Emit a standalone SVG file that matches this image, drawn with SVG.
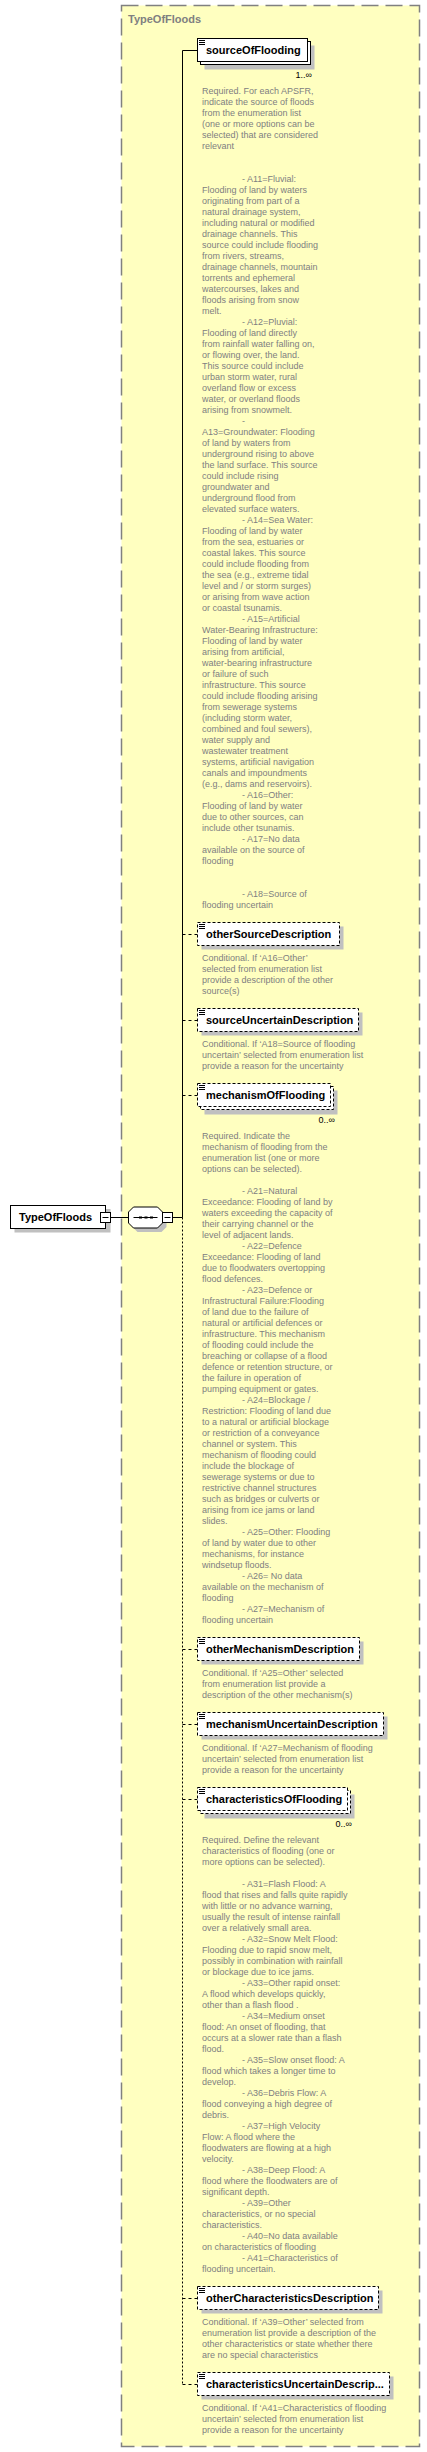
<svg xmlns="http://www.w3.org/2000/svg" width="427" height="2452" viewBox="0 0 427 2452">
<style>
.bg{fill:#FFFFC0;stroke:#808080;stroke-width:1.5;stroke-dasharray:17,7}
.title{font-family:"Liberation Sans",Arial,sans-serif;font-size:11px;font-weight:bold;fill:#808080}
.box{fill:#fff;stroke:#000;stroke-width:1}
.opt{stroke-dasharray:3,2}
.sh{fill:#C0C0C0}
.lbl{font-family:"Liberation Sans",Arial,sans-serif;font-size:11px;font-weight:bold;fill:#000}
.doc{font-family:"Liberation Sans",Arial,sans-serif;font-size:9px;fill:#808080}
.mult{font-family:"Liberation Sans",Arial,sans-serif;font-size:9px;fill:#000}
.c{stroke:#000;stroke-width:1;fill:none}
.cd{stroke:#000;stroke-width:1;fill:none;stroke-dasharray:3,3}
.cv{stroke:#000;stroke-width:1;fill:none;stroke-dasharray:2,2}
.ic{stroke:#000;stroke-width:1}
</style>
<defs>
<g id="icon"><path class="ic" d="M1.5 2.5h6M1.5 4.5h6M1.5 6.5h6"/></g>
</defs>
<rect class="bg" x="121.5" y="5.5" width="298" height="2441"/>
<text class="title" x="128" y="23">TypeOfFloods</text>

<g id="connectors">
<path class="c" d="M110.5 1217.5H128.5M172.5 1217.5H182.5M182.5 50.5V1217.5M182.5 50.5H197.5"/>
<path class="cv" d="M182.5 1217.5V2384.5"/>
<path class="cd" d="M182.5 934.5H197.5M182.5 1020.5H197.5M182.5 1095.5H197.5M182.5 1649.5H197.5M182.5 1724.5H197.5M182.5 1799.5H197.5M182.5 2298.5H197.5M182.5 2384.5H197.5"/>
</g>

<g id="TypeOfFloods">
<rect class="sh" x="14.5" y="1209" width="96" height="23.5"/>
<rect class="box" x="10.5" y="1205.5" width="95" height="23"/>
<text class="lbl" x="19" y="1221">TypeOfFloods</text>
<rect class="box" x="100.5" y="1212.5" width="10" height="10"/>
<path class="ic" d="M102.5 1217.5h6"/>
</g>

<g id="sequence">
<polygon class="sh" points="137.5,1211 161.5,1211 166.5,1216 166.5,1227 161.5,1232 137.5,1232 132.5,1227 132.5,1216"/>
<polygon class="box" points="133.5,1207 157.5,1207 162.5,1212 162.5,1223 157.5,1228 133.5,1228 128.5,1223 128.5,1212"/>
<path class="ic" d="M133.5 1217.5h24"/>
<rect x="139" y="1216.5" width="3" height="2" fill="#000"/>
<rect x="144.5" y="1216.5" width="3" height="2" fill="#000"/>
<rect x="150" y="1216.5" width="3" height="2" fill="#000"/>
<rect class="box" x="162.5" y="1212.5" width="10" height="10"/>
<path class="ic" d="M164.5 1217.5h6"/>
</g>

<g id="sourceOfFlooding">
<rect class="sh" x="204.5" y="45.5" width="110" height="24"/>
<rect class="box" x="200.5" y="41.5" width="110" height="23"/>
<rect class="box" x="197.5" y="38.5" width="110" height="23"/>
<use href="#icon" x="197.5" y="38"/>
<text class="lbl" x="206" y="54">sourceOfFlooding</text>
<text class="mult" x="312" y="78" text-anchor="end">1..∞</text>
<text class="doc"><tspan x="202" y="94">Required. For each APSFR,</tspan><tspan x="202" y="105">indicate the source of floods</tspan><tspan x="202" y="116">from the enumeration list</tspan><tspan x="202" y="127">(one or more options can be</tspan><tspan x="202" y="138">selected) that are considered</tspan><tspan x="202" y="149">relevant</tspan><tspan x="242" y="182">- A11=Fluvial:</tspan><tspan x="202" y="193">Flooding of land by waters</tspan><tspan x="202" y="204">originating from part of a</tspan><tspan x="202" y="215">natural drainage system,</tspan><tspan x="202" y="226">including natural or modified</tspan><tspan x="202" y="237">drainage channels. This</tspan><tspan x="202" y="248">source could include flooding</tspan><tspan x="202" y="259">from rivers, streams,</tspan><tspan x="202" y="270">drainage channels, mountain</tspan><tspan x="202" y="281">torrents and ephemeral</tspan><tspan x="202" y="292">watercourses, lakes and</tspan><tspan x="202" y="303">floods arising from snow</tspan><tspan x="202" y="314">melt.</tspan><tspan x="242" y="325">- A12=Pluvial:</tspan><tspan x="202" y="336">Flooding of land directly</tspan><tspan x="202" y="347">from rainfall water falling on,</tspan><tspan x="202" y="358">or flowing over, the land.</tspan><tspan x="202" y="369">This source could include</tspan><tspan x="202" y="380">urban storm water, rural</tspan><tspan x="202" y="391">overland flow or excess</tspan><tspan x="202" y="402">water, or overland floods</tspan><tspan x="202" y="413">arising from snowmelt.</tspan><tspan x="242" y="424">-</tspan><tspan x="202" y="435">A13=Groundwater: Flooding</tspan><tspan x="202" y="446">of land by waters from</tspan><tspan x="202" y="457">underground rising to above</tspan><tspan x="202" y="468">the land surface. This source</tspan><tspan x="202" y="479">could include rising</tspan><tspan x="202" y="490">groundwater and</tspan><tspan x="202" y="501">underground flood from</tspan><tspan x="202" y="512">elevated surface waters.</tspan><tspan x="242" y="523">- A14=Sea Water:</tspan><tspan x="202" y="534">Flooding of land by water</tspan><tspan x="202" y="545">from the sea, estuaries or</tspan><tspan x="202" y="556">coastal lakes. This source</tspan><tspan x="202" y="567">could include flooding from</tspan><tspan x="202" y="578">the sea (e.g., extreme tidal</tspan><tspan x="202" y="589">level and / or storm surges)</tspan><tspan x="202" y="600">or arising from wave action</tspan><tspan x="202" y="611">or coastal tsunamis.</tspan><tspan x="242" y="622">- A15=Artificial</tspan><tspan x="202" y="633">Water-Bearing Infrastructure:</tspan><tspan x="202" y="644">Flooding of land by water</tspan><tspan x="202" y="655">arising from artificial,</tspan><tspan x="202" y="666">water-bearing infrastructure</tspan><tspan x="202" y="677">or failure of such</tspan><tspan x="202" y="688">infrastructure. This source</tspan><tspan x="202" y="699">could include flooding arising</tspan><tspan x="202" y="710">from sewerage systems</tspan><tspan x="202" y="721">(including storm water,</tspan><tspan x="202" y="732">combined and foul sewers),</tspan><tspan x="202" y="743">water supply and</tspan><tspan x="202" y="754">wastewater treatment</tspan><tspan x="202" y="765">systems, artificial navigation</tspan><tspan x="202" y="776">canals and impoundments</tspan><tspan x="202" y="787">(e.g., dams and reservoirs).</tspan><tspan x="242" y="798">- A16=Other:</tspan><tspan x="202" y="809">Flooding of land by water</tspan><tspan x="202" y="820">due to other sources, can</tspan><tspan x="202" y="831">include other tsunamis.</tspan><tspan x="242" y="842">- A17=No data</tspan><tspan x="202" y="853">available on the source of</tspan><tspan x="202" y="864">flooding</tspan><tspan x="242" y="897">- A18=Source of</tspan><tspan x="202" y="908">flooding uncertain</tspan></text>
</g>

<g id="otherSourceDescription">
<rect class="sh" x="201.5" y="926.5" width="142" height="23"/>
<rect class="box opt" x="197.5" y="922.5" width="142" height="23"/>
<use href="#icon" x="197.5" y="922"/>
<text class="lbl" x="206" y="938">otherSourceDescription</text>
<text class="doc"><tspan x="202" y="961">Conditional. If ‘A16=Other’</tspan><tspan x="202" y="972">selected from enumeration list</tspan><tspan x="202" y="983">provide a description of the other</tspan><tspan x="202" y="994">source(s)</tspan></text>
</g>

<g id="sourceUncertainDescription">
<rect class="sh" x="201.5" y="1012.5" width="161" height="23"/>
<rect class="box opt" x="197.5" y="1008.5" width="161" height="23"/>
<use href="#icon" x="197.5" y="1008"/>
<text class="lbl" x="206" y="1024">sourceUncertainDescription</text>
<text class="doc"><tspan x="202" y="1046.5">Conditional. If ‘A18=Source of flooding</tspan><tspan x="202" y="1057.5">uncertain’ selected from enumeration list</tspan><tspan x="202" y="1068.5">provide a reason for the uncertainty</tspan></text>
</g>

<g id="mechanismOfFlooding">
<rect class="sh" x="204.5" y="1090.5" width="133" height="24"/>
<rect class="box opt" x="200.5" y="1086.5" width="133" height="23"/>
<rect class="box opt" x="197.5" y="1083.5" width="133" height="23"/>
<use href="#icon" x="197.5" y="1083"/>
<text class="lbl" x="206" y="1099">mechanismOfFlooding</text>
<text class="mult" x="335" y="1123" text-anchor="end">0..∞</text>
<text class="doc"><tspan x="202" y="1138.5">Required. Indicate the</tspan><tspan x="202" y="1149.5">mechanism of flooding from the</tspan><tspan x="202" y="1160.5">enumeration list (one or more</tspan><tspan x="202" y="1171.5">options can be selected).</tspan><tspan x="242" y="1193.5">- A21=Natural</tspan><tspan x="202" y="1204.5">Exceedance: Flooding of land by</tspan><tspan x="202" y="1215.5">waters exceeding the capacity of</tspan><tspan x="202" y="1226.5">their carrying channel or the</tspan><tspan x="202" y="1237.5">level of adjacent lands.</tspan><tspan x="242" y="1248.5">- A22=Defence</tspan><tspan x="202" y="1259.5">Exceedance: Flooding of land</tspan><tspan x="202" y="1270.5">due to floodwaters overtopping</tspan><tspan x="202" y="1281.5">flood defences.</tspan><tspan x="242" y="1292.5">- A23=Defence or</tspan><tspan x="202" y="1303.5">Infrastructural Failure:Flooding</tspan><tspan x="202" y="1314.5">of land due to the failure of</tspan><tspan x="202" y="1325.5">natural or artificial defences or</tspan><tspan x="202" y="1336.5">infrastructure. This mechanism</tspan><tspan x="202" y="1347.5">of flooding could include the</tspan><tspan x="202" y="1358.5">breaching or collapse of a flood</tspan><tspan x="202" y="1369.5">defence or retention structure, or</tspan><tspan x="202" y="1380.5">the failure in operation of</tspan><tspan x="202" y="1391.5">pumping equipment or gates.</tspan><tspan x="242" y="1402.5">- A24=Blockage /</tspan><tspan x="202" y="1413.5">Restriction: Flooding of land due</tspan><tspan x="202" y="1424.5">to a natural or artificial blockage</tspan><tspan x="202" y="1435.5">or restriction of a conveyance</tspan><tspan x="202" y="1446.5">channel or system. This</tspan><tspan x="202" y="1457.5">mechanism of flooding could</tspan><tspan x="202" y="1468.5">include the blockage of</tspan><tspan x="202" y="1479.5">sewerage systems or due to</tspan><tspan x="202" y="1490.5">restrictive channel structures</tspan><tspan x="202" y="1501.5">such as bridges or culverts or</tspan><tspan x="202" y="1512.5">arising from ice jams or land</tspan><tspan x="202" y="1523.5">slides.</tspan><tspan x="242" y="1534.5">- A25=Other: Flooding</tspan><tspan x="202" y="1545.5">of land by water due to other</tspan><tspan x="202" y="1556.5">mechanisms, for instance</tspan><tspan x="202" y="1567.5">windsetup floods.</tspan><tspan x="242" y="1578.5">- A26= No data</tspan><tspan x="202" y="1589.5">available on the mechanism of</tspan><tspan x="202" y="1600.5">flooding</tspan><tspan x="242" y="1611.5">- A27=Mechanism of</tspan><tspan x="202" y="1622.5">flooding uncertain</tspan></text>
</g>

<g id="otherMechanismDescription">
<rect class="sh" x="201.5" y="1641.5" width="162" height="23"/>
<rect class="box opt" x="197.5" y="1637.5" width="162" height="23"/>
<use href="#icon" x="197.5" y="1637"/>
<text class="lbl" x="206" y="1653">otherMechanismDescription</text>
<text class="doc"><tspan x="202" y="1676">Conditional. If ‘A25=Other’ selected</tspan><tspan x="202" y="1687">from enumeration list provide a</tspan><tspan x="202" y="1698">description of the other mechanism(s)</tspan></text>
</g>

<g id="mechanismUncertainDescription">
<rect class="sh" x="201.5" y="1716.5" width="186" height="23"/>
<rect class="box opt" x="197.5" y="1712.5" width="186" height="23"/>
<use href="#icon" x="197.5" y="1712"/>
<text class="lbl" x="206" y="1728">mechanismUncertainDescription</text>
<text class="doc"><tspan x="202" y="1751">Conditional. If ‘A27=Mechanism of flooding</tspan><tspan x="202" y="1762">uncertain’ selected from enumeration list</tspan><tspan x="202" y="1773">provide a reason for the uncertainty</tspan></text>
</g>

<g id="characteristicsOfFlooding">
<rect class="sh" x="204.5" y="1794.5" width="150" height="24"/>
<rect class="box opt" x="200.5" y="1790.5" width="150" height="23"/>
<rect class="box opt" x="197.5" y="1787.5" width="150" height="23"/>
<use href="#icon" x="197.5" y="1787"/>
<text class="lbl" x="206" y="1803">characteristicsOfFlooding</text>
<text class="mult" x="352" y="1827" text-anchor="end">0..∞</text>
<text class="doc"><tspan x="202" y="1843.2">Required. Define the relevant</tspan><tspan x="202" y="1854.2">characteristics of flooding (one or</tspan><tspan x="202" y="1865.2">more options can be selected).</tspan><tspan x="242" y="1887.2">- A31=Flash Flood: A</tspan><tspan x="202" y="1898.2">flood that rises and falls quite rapidly</tspan><tspan x="202" y="1909.2">with little or no advance warning,</tspan><tspan x="202" y="1920.2">usually the result of intense rainfall</tspan><tspan x="202" y="1931.2">over a relatively small area.</tspan><tspan x="242" y="1942.2">- A32=Snow Melt Flood:</tspan><tspan x="202" y="1953.2">Flooding due to rapid snow melt,</tspan><tspan x="202" y="1964.2">possibly in combination with rainfall</tspan><tspan x="202" y="1975.2">or blockage due to ice jams.</tspan><tspan x="242" y="1986.2">- A33=Other rapid onset:</tspan><tspan x="202" y="1997.2">A flood which develops quickly,</tspan><tspan x="202" y="2008.2">other than a flash flood .</tspan><tspan x="242" y="2019.2">- A34=Medium onset</tspan><tspan x="202" y="2030.2">flood: An onset of flooding, that</tspan><tspan x="202" y="2041.2">occurs at a slower rate than a flash</tspan><tspan x="202" y="2052.2">flood.</tspan><tspan x="242" y="2063.2">- A35=Slow onset flood: A</tspan><tspan x="202" y="2074.2">flood which takes a longer time to</tspan><tspan x="202" y="2085.2">develop.</tspan><tspan x="242" y="2096.2">- A36=Debris Flow: A</tspan><tspan x="202" y="2107.2">flood conveying a high degree of</tspan><tspan x="202" y="2118.2">debris.</tspan><tspan x="242" y="2129.2">- A37=High Velocity</tspan><tspan x="202" y="2140.2">Flow: A flood where the</tspan><tspan x="202" y="2151.2">floodwaters are flowing at a high</tspan><tspan x="202" y="2162.2">velocity.</tspan><tspan x="242" y="2173.2">- A38=Deep Flood: A</tspan><tspan x="202" y="2184.2">flood where the floodwaters are of</tspan><tspan x="202" y="2195.2">significant depth.</tspan><tspan x="242" y="2206.2">- A39=Other</tspan><tspan x="202" y="2217.2">characteristics, or no special</tspan><tspan x="202" y="2228.2">characteristics.</tspan><tspan x="242" y="2239.2">- A40=No data available</tspan><tspan x="202" y="2250.2">on characteristics of flooding</tspan><tspan x="242" y="2261.2">- A41=Characteristics of</tspan><tspan x="202" y="2272.2">flooding uncertain.</tspan></text>
</g>

<g id="otherCharacteristicsDescription">
<rect class="sh" x="201.5" y="2290.5" width="181" height="23"/>
<rect class="box opt" x="197.5" y="2286.5" width="181" height="23"/>
<use href="#icon" x="197.5" y="2286"/>
<text class="lbl" x="206" y="2302">otherCharacteristicsDescription</text>
<text class="doc"><tspan x="202" y="2325">Conditional. If ‘A39=Other’ selected from</tspan><tspan x="202" y="2336">enumeration list provide a description of the</tspan><tspan x="202" y="2347">other characteristics or state whether there</tspan><tspan x="202" y="2358">are no special characteristics</tspan></text>
</g>

<g id="characteristicsUncertainDescription">
<rect class="sh" x="201.5" y="2376.5" width="192" height="23"/>
<rect class="box opt" x="197.5" y="2372.5" width="192" height="23"/>
<use href="#icon" x="197.5" y="2372"/>
<text class="lbl" x="206" y="2388">characteristicsUncertainDescrip...</text>
<text class="doc"><tspan x="202" y="2411">Conditional. If ‘A41=Characteristics of flooding</tspan><tspan x="202" y="2422">uncertain’ selected from enumeration list</tspan><tspan x="202" y="2433">provide a reason for the uncertainty</tspan></text>
</g>
</svg>
